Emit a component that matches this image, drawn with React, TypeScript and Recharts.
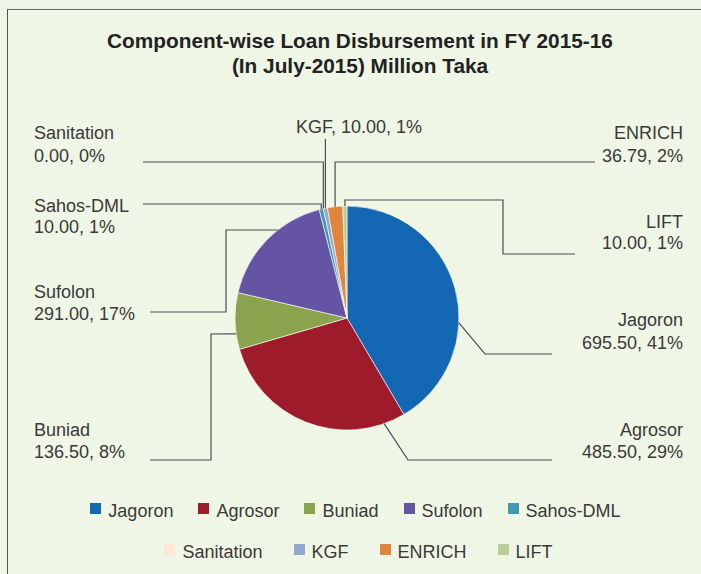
import React from "react";
import { PieChart, Pie, Cell, Legend, Customized } from "recharts";

const categories = ["Jagoron", "Agrosor", "Buniad", "Sufolon", "Sahos-DML", "Sanitation", "KGF", "ENRICH", "LIFT"];
const values = [695.5, 485.5, 136.5, 291.0, 10.0, 0.0, 10.0, 36.79, 10.0];
const percentLabels = ["41%", "29%", "8%", "17%", "1%", "0%", "1%", "2%", "1%"];
const colors = ["#1467b2", "#9e1b2b", "#89a44c", "#6553a3", "#3f9ab1", "#fbe8d2", "#93a9d4", "#e1843c", "#b9cf96"];
const titleLines = ["Component-wise Loan Disbursement in FY 2015-16", "(In July-2015) Million Taka"];

const data = categories.map((name, i) => ({ name, value: values[i] }));

const W = 701;
const H = 574;
const BG = "#eff6e5";
const TEXT = "#3a3a3a";
const LINE = "#4d4d4d";

// label layout (annotation positions, clockwise-from-top anchor angles)
type Lay = {
  x: number; y1: number; y2?: number; anchor: "start" | "end" | "middle";
  path: [number, number][]; angle?: number; vertical?: boolean; single?: boolean;
};
const layout: Lay[] = [
  { x: 683, y1: 326, y2: 349, anchor: "end", path: [[552, 354], [485, 354]], angle: 92.5 },
  { x: 683, y1: 436, y2: 458, anchor: "end", path: [[552, 460], [408, 460]], angle: 160.6 },
  { x: 34, y1: 436, y2: 458, anchor: "start", path: [[150, 460], [211, 460], [211, 334]], angle: 261.8 },
  { x: 34, y1: 298, y2: 320, anchor: "start", path: [[150, 312], [226, 312], [226, 230]], angle: 321.8 },
  { x: 34, y1: 212, y2: 233, anchor: "start", path: [[143, 204], [320, 204]], vertical: true },
  { x: 34, y1: 139, y2: 162, anchor: "start", path: [[143, 162], [323, 162]], vertical: true },
  { x: 359, y1: 133, anchor: "middle", path: [[325, 139]], vertical: true, single: true },
  { x: 683, y1: 139, y2: 162, anchor: "end", path: [[595, 162], [334, 162]], vertical: true },
  { x: 683, y1: 228, y2: 249, anchor: "end", path: [[575, 254], [503, 254], [503, 200], [346, 200]], vertical: true },
];

const total = values.reduce((a, b) => a + b, 0);

const renderLabel = (props: any) => {
  const { cx, cy, outerRadius, index } = props;
  const lay = layout[index];
  if (!lay) return null;
  let before = 0;
  for (let k = 0; k < index; k++) before += values[k];
  const midCw = ((before + values[index] / 2) / total) * 360;
  const ang = lay.angle !== undefined ? lay.angle : midCw;
  const rad = (ang * Math.PI) / 180;
  const ax = cx + outerRadius * Math.sin(rad);
  const ay = cy - outerRadius * Math.cos(rad);
  const pts = lay.path.map((p) => [p[0], p[1]] as [number, number]);
  if (lay.vertical) {
    pts[pts.length - 1][0] = ax;
  }
  pts.push([ax, ay]);
  const d = pts.map((p, i) => `${i === 0 ? "M" : "L"}${p[0]},${p[1]}`).join(" ");
  const valStr = values[index].toFixed(2) + ", " + percentLabels[index];
  return (
    <g key={`lab-${index}`}>
      <path d={d} stroke={LINE} strokeWidth={1.2} fill="none" />
      {lay.single ? (
        <text x={lay.x} y={lay.y1} textAnchor={lay.anchor} fill={TEXT} fontSize={18} fontFamily="'Liberation Sans', Arial, sans-serif">
          {categories[index] + ", " + valStr}
        </text>
      ) : (
        <text x={lay.x} textAnchor={lay.anchor} fill={TEXT} fontSize={18} fontFamily="'Liberation Sans', Arial, sans-serif">
          <tspan x={lay.x} y={lay.y1}>{categories[index]}</tspan>
          <tspan x={lay.x} y={lay.y2}>{valStr}</tspan>
        </text>
      )}
    </g>
  );
};

const Title = () => (
  <g>
    <text x={360} y={48} textAnchor="middle" fontSize={20.8} fontWeight="bold" fill="#222" fontFamily="'Liberation Sans', Arial, sans-serif">
      {titleLines[0]}
    </text>
    <text x={360} y={73} textAnchor="middle" fontSize={20.8} fontWeight="bold" fill="#222" fontFamily="'Liberation Sans', Arial, sans-serif">
      {titleLines[1]}
    </text>
  </g>
);

const legendRows = [[0, 1, 2, 3, 4], [5, 6, 7, 8]];
const legendGaps = [25, 31];
const legendTops = [501, 542];
const legendLefts = [10, 13];

const LegendContent = () => (
  <div style={{ position: "relative", width: W, height: 80 }}>
    {legendRows.map((row, r) => (
      <div
        key={r}
        style={{
          position: "absolute",
          top: legendTops[r] - 495,
          left: legendLefts[r],
          width: W - 10,
          display: "flex",
          justifyContent: "center",
          gap: legendGaps[r],
          fontFamily: "'Liberation Sans', Arial, sans-serif",
          fontSize: 18,
          lineHeight: "20px",
          color: TEXT,
        }}
      >
        {row.map((i) => (
          <div key={i} style={{ display: "flex", alignItems: "flex-start" }}>
            <div style={{ width: 11, height: 11, background: colors[i], marginTop: 2, marginRight: 7 }} />
            <span style={{ whiteSpace: "nowrap" }}>{categories[i]}</span>
          </div>
        ))}
      </div>
    ))}
  </div>
);

export default function App() {
  return (
    <div style={{ position: "fixed", left: 0, top: 0, width: W, height: H, background: BG, overflow: "hidden" }}>
      <div style={{ position: "absolute", left: 7, top: 9, width: W, height: H, borderLeft: "1.5px solid #555", borderTop: "1.5px solid #666" }} />
      <div style={{ position: "absolute", left: 0, top: 0 }}>
        <PieChart width={W} height={H} margin={{ top: 0, right: 0, bottom: 0, left: 0 }}>
          <Customized component={Title} />
          <Pie
            data={data}
            dataKey="value"
            nameKey="name"
            cx={347}
            cy={318}
            outerRadius={112}
            startAngle={90}
            endAngle={-270}
            stroke="#ffffff"
            strokeWidth={0.6}
            label={renderLabel}
            labelLine={false}
            isAnimationActive={false}
          >
            {data.map((d, i) => (
              <Cell key={d.name} fill={colors[i]} />
            ))}
          </Pie>
          <Legend
            content={<LegendContent />}
            wrapperStyle={{ position: "absolute", top: 495, left: 0, width: W, height: 80 }}
          />
        </PieChart>
      </div>
    </div>
  );
}
